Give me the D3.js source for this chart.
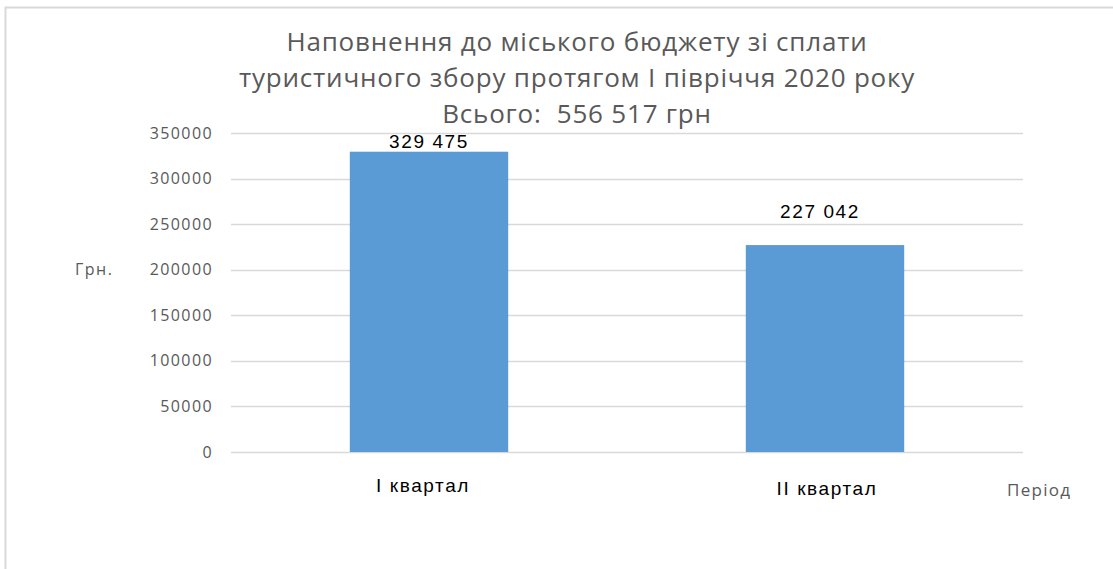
<!DOCTYPE html>
<html>
<head>
  <meta charset="utf-8">
  <style>
    body { margin: 0; background: #fff; }
    text { font-family: "Open Sans", sans-serif; }
  </style>
  <script src="https://d3js.org/d3.v7.min.js"></script>
</head>
<body>
  <svg id="svg" width="1113" height="569"></svg>
  <script>
    let categories = ["I квартал", "II квартал"];
    let values = [329475, 227042];
    let valueLabels = ["329 475", "227 042"];
    let yTicks = [0, 50000, 100000, 150000, 200000, 250000, 300000, 350000];
    let titleLines = [
      "Наповнення до міського бюджету зі сплати",
      "туристичного збору протягом I півріччя 2020 року",
      "Всього:  556 517 грн"
    ];

    let svg = d3.select("#svg");

    // frame
    svg.append("rect")
      .attr("x", 5.5).attr("y", 7.5)
      .attr("width", 1200).attr("height", 700)
      .attr("fill", "none")
      .attr("stroke", "#d9d9d9")
      .attr("stroke-width", 2);

    let plotLeft = 231, plotRight = 1023, plotTop = 133, plotBottom = 452;

    let x = d3.scaleBand()
      .domain(categories)
      .range([plotLeft, plotRight])
      .paddingInner(0.6)
      .paddingOuter(0.3);

    let y = d3.scaleLinear()
      .domain([0, 350000])
      .range([plotBottom, plotTop]);

    // gridlines
    svg.append("g")
      .selectAll("line")
      .data(yTicks)
      .enter()
      .append("line")
      .attr("x1", plotLeft).attr("x2", plotRight)
      .attr("y1", d => Math.round(y(d)) + 0.5)
      .attr("y2", d => Math.round(y(d)) + 0.5)
      .attr("stroke", "#d9d9d9")
      .attr("stroke-width", 1.5);

    // y axis labels
    let yAxis = d3.axisLeft(y).tickValues(yTicks).tickFormat(d3.format("d")).tickSize(0).tickPadding(0);
    let gy = svg.append("g")
      .attr("transform", "translate(213,0)")
      .call(yAxis);
    gy.select(".domain").remove();
    gy.selectAll("text")
      .style("font-family", "Open Sans, sans-serif")
      .style("font-size", "16px")
      .style("letter-spacing", "1.4px")
      .attr("fill", "#595959");

    // bars
    svg.append("g")
      .selectAll("rect")
      .data(values)
      .enter()
      .append("rect")
      .attr("x", (d, i) => x(categories[i]))
      .attr("width", x.bandwidth())
      .attr("y", d => y(d))
      .attr("height", d => y(0) - y(d))
      .attr("fill", "#5b9bd5");

    // value labels
    let labelOffset = [4, 27];
    svg.append("g")
      .selectAll("text")
      .data(values)
      .enter()
      .append("text")
      .text((d, i) => valueLabels[i])
      .attr("x", (d, i) => x(categories[i]) + x.bandwidth() / 2 + (i === 1 ? -5 : 0))
      .attr("y", (d, i) => y(d) - labelOffset[i])
      .attr("text-anchor", "middle")
      .style("font-family", "Liberation Sans, Arial, sans-serif")
      .style("font-size", "19px")
      .style("letter-spacing", "1.6px")
      .attr("fill", "#000");

    // category labels
    svg.append("g")
      .selectAll("text")
      .data(categories)
      .enter()
      .append("text")
      .text(d => d)
      .attr("x", (d, i) => x(d) + x.bandwidth() / 2 + (i === 0 ? -6 : 2))
      .attr("y", (d, i) => i === 0 ? 492 : 495)
      .attr("text-anchor", "middle")
      .style("font-family", "Liberation Sans, Arial, sans-serif")
      .style("font-size", "19px")
      .style("letter-spacing", "1.6px")
      .attr("fill", "#000");

    // axis titles
    svg.append("text")
      .text("Період")
      .attr("x", 1007).attr("y", 496)
      .style("font-size", "17px")
      .style("letter-spacing", "1.3px")
      .attr("fill", "#595959");

    svg.append("text")
      .text("Грн.")
      .attr("x", 75).attr("y", 275)
      .style("font-size", "16px")
      .style("letter-spacing", "1.5px")
      .attr("fill", "#595959");

    // title
    svg.append("g")
      .selectAll("text")
      .data(titleLines)
      .enter()
      .append("text")
      .text(d => d)
      .attr("x", 577)
      .attr("y", (d, i) => 51 + i * 36)
      .attr("text-anchor", "middle")
      .style("white-space", "pre")
      .style("font-size", "26px")
      .style("letter-spacing", "0.8px")
      .attr("fill", "#595959");
  </script>
</body>
</html>
